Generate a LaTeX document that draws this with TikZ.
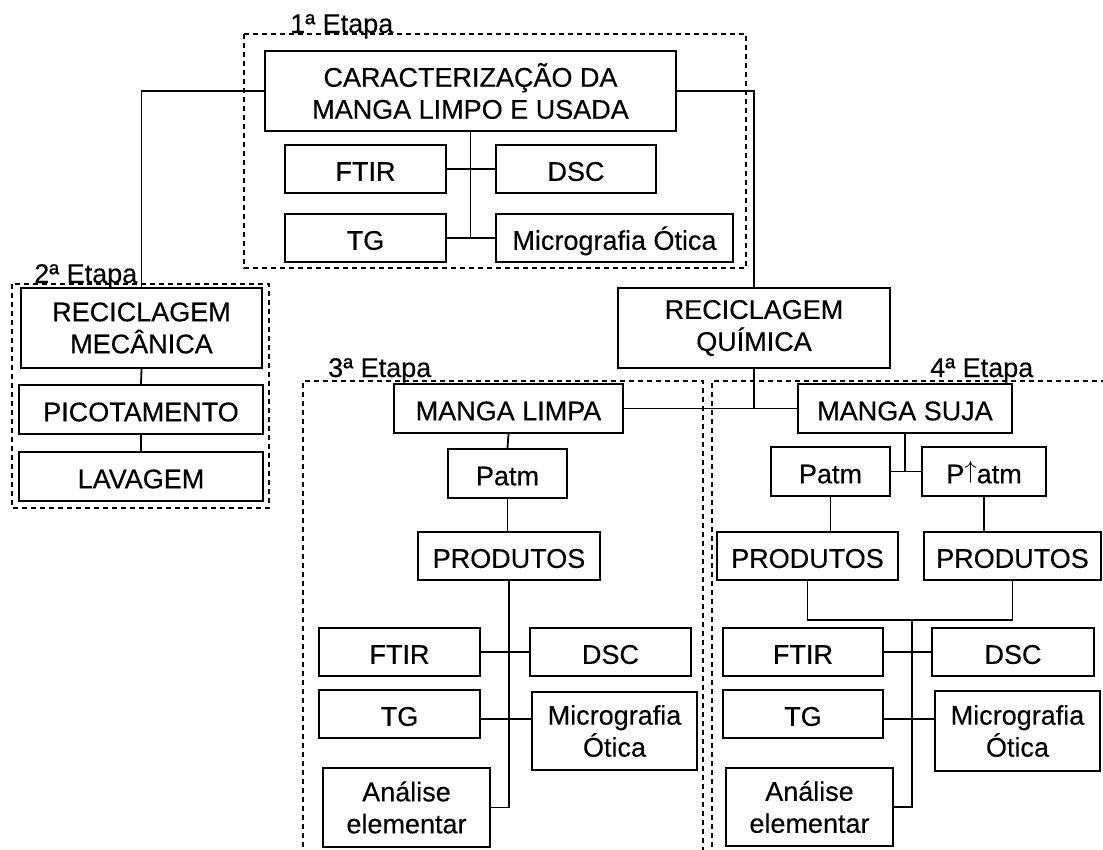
\documentclass[tikz,border=0pt]{standalone}
\usepackage{fontspec}
\setmainfont{Liberation Sans}[FakeBold=0.3]
\newcommand{\uparr}{\raisebox{0.18em}{$\uparrow$}}
\begin{document}
\begin{tikzpicture}[x=1pt,y=-1pt,
  nbox/.style={draw, line width=2.1pt, inner sep=0pt, align=center,
    font=\fontsize{27}{32}\selectfont},
  one/.style={text height=23.6pt, text depth=0pt},
  wire/.style={line width=1.8pt},
  frame/.style={line width=2pt, dash pattern=on 5pt off 4pt},
  tag/.style={anchor=base west, inner sep=0pt, font=\fontsize{27}{32}\selectfont}]
\useasboundingbox (0,0) rectangle (1103,849);
\clip (0,0) rectangle (1103,849);

% stage frames
\draw[frame] (244,34) rectangle (746,268);
\draw[frame] (12,284) rectangle (269,508);
\draw[frame] (303,856) |- (703,381) -- (703,856);
\draw[frame] (712,856) |- (1110,381);

\node[tag] (t1) at (290,33) {1ª Etapa};
\node[tag] (t2) at (34,283) {2ª Etapa};
\node[tag] (t3) at (328,377) {3ª Etapa};
\node[tag] (t4) at (930,377) {4ª Etapa};

% stage 1
\node[nbox, minimum width=411pt, minimum height=80pt] (car) at (470.5,91) {CARACTERIZAÇÃO DA\\MANGA LIMPO E USADA};
\node[nbox, one, minimum width=161pt, minimum height=48pt] (ftir1) at (365.5,169) {FTIR};
\node[nbox, one, minimum width=160pt, minimum height=48pt] (dsc1) at (576,169) {DSC};
\node[nbox, one, minimum width=161pt, minimum height=48pt] (tg1) at (365.5,238) {TG};
\node[nbox, one, minimum width=237pt, minimum height=48pt] (mic1) at (614.5,238) {Micrografia Ótica};

% stage 2
\node[nbox, minimum width=241pt, minimum height=80pt] (rm) at (141.5,328) {RECICLAGEM\\MECÂNICA};
\node[nbox, one, minimum width=244pt, minimum height=49pt] (pic) at (141,409.5) {PICOTAMENTO};
\node[nbox, one, minimum width=244pt, minimum height=49pt] (lav) at (141,476.5) {LAVAGEM};

% chemical route
\node[nbox, minimum width=272pt, minimum height=80pt] (rq) at (754,328) {RECICLAGEM\\QUÍMICA};

% stage 3
\node[nbox, one, minimum width=229pt, minimum height=49pt] (ml) at (508.5,408.5) {MANGA LIMPA};
\node[nbox, one, minimum width=119pt, minimum height=49pt] (pa3) at (507.5,473.5) {Patm};
\node[nbox, one, minimum width=182pt, minimum height=48pt] (pr3) at (509,556) {PRODUTOS};
\node[nbox, one, minimum width=161pt, minimum height=48pt] (ftir3) at (399.5,652) {FTIR};
\node[nbox, one, minimum width=161pt, minimum height=48pt] (dsc3) at (610.5,652) {DSC};
\node[nbox, one, minimum width=161pt, minimum height=48pt] (tg3) at (399.5,714) {TG};
\node[nbox, minimum width=165pt, minimum height=78pt] (mic3) at (614.5,731) {Micrografia\\Ótica};
\node[nbox, minimum width=167pt, minimum height=79pt] (an3) at (406.5,807.5) {Análise\\elementar};

% stage 4
\node[nbox, one, minimum width=214pt, minimum height=49pt] (ms) at (905,408.5) {MANGA SUJA};
\node[nbox, one, minimum width=119pt, minimum height=49pt] (pa4) at (830.5,471.5) {Patm};
\node[nbox, one, minimum width=124pt, minimum height=49pt] (pu4) at (984,471.5) {P\uparr atm};
\node[nbox, one, minimum width=181pt, minimum height=48pt] (pr4a) at (807.5,556) {PRODUTOS};
\node[nbox, one, minimum width=177pt, minimum height=48pt] (pr4b) at (1012.5,556) {PRODUTOS};
\node[nbox, one, minimum width=160pt, minimum height=48pt] (ftir4) at (803,652) {FTIR};
\node[nbox, one, minimum width=162pt, minimum height=48pt] (dsc4) at (1013,652) {DSC};
\node[nbox, one, minimum width=160pt, minimum height=48pt] (tg4) at (803,714) {TG};
\node[nbox, minimum width=165pt, minimum height=80pt] (mic4) at (1017.5,731) {Micrografia\\Ótica};
\node[nbox, minimum width=167pt, minimum height=78pt] (an4) at (809.5,807) {Análise\\elementar};

% connectors, stage 1
\draw[wire] (car.west) -| (rm.north);
\draw[wire] (car.east) -| (rq.north);
\draw[wire] (car.south) -- (car.south |- tg1.east);
\draw[wire] (ftir1.east) -- (dsc1.west);
\draw[wire] (tg1.east) -- (mic1.west);

% connectors, stage 2
\draw[wire] (rm.south) -- (pic.north);
\draw[wire] (pic.south) -- (lav.north);

% connectors, chemical route
\draw[wire] (rq.south) -- (rq.south |- ml.east);
\draw[wire] (ml.east) -- (ms.west);

% connectors, stage 3
\draw[wire] (ml.south) -- (pa3.north);
\draw[wire] (pa3.south) -- (pa3.south |- pr3.north);
\draw[wire] (pr3.south) -- (pr3.south |- an3.east) -- (an3.east);
\draw[wire] (ftir3.east) -- (dsc3.west);
\coordinate (tgl3) at ([yshift=-5pt]tg3.east);
\draw[wire] (tgl3) -- (tgl3 -| mic3.west);

% connectors, stage 4
\draw[wire] (ms.south) -- (ms.south |- pa4.east);
\draw[wire] (pa4.east) -- (pu4.west);
\draw[wire] (pa4.south) -- (pa4.south |- pr4a.north);
\draw[wire] (pu4.south) -- (pu4.south |- pr4b.north);
\draw[wire] (pr4a.south) -- ++(0,39) -| (pr4b.south);
\coordinate (j4) at (912,619);
\draw[wire] (j4) -- (j4 |- an4.east) -- (an4.east);
\draw[wire] (ftir4.east) -- (dsc4.west);
\coordinate (tgl4) at ([yshift=-5pt]tg4.east);
\draw[wire] (tgl4) -- (tgl4 -| mic4.west);
\end{tikzpicture}
\end{document}
